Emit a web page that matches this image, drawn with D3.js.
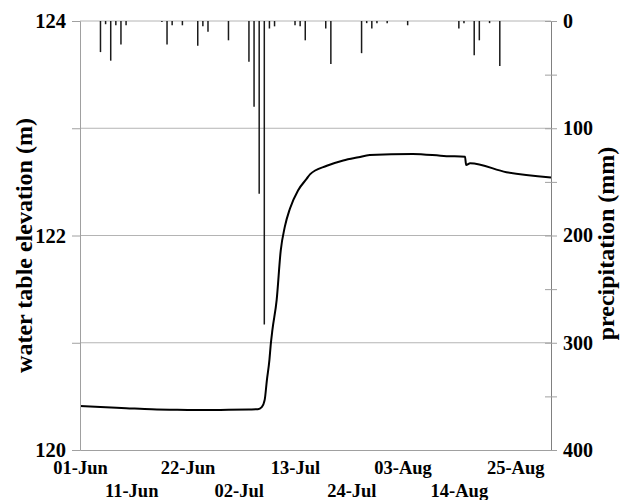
<!DOCTYPE html>
<html>
<head>
<meta charset="utf-8">
<script src="https://cdn.jsdelivr.net/npm/d3@7"></script>
<style>
  body { margin: 0; background: #fff; }
  text { font-family: "Liberation Serif", "Times New Roman", serif; font-weight: bold; fill: #000; }
</style>
</head>
<body>
<div id="chart"></div>
<script>
// water table record
const wtTimes = [
  "2012-06-01 00:00", "2012-06-05 00:00", "2012-06-10 00:00", "2012-06-15 00:00",
  "2012-06-20 00:00", "2012-06-25 00:00", "2012-06-30 00:00", "2012-07-04 00:00",
  "2012-07-05 18:00", "2012-07-06 12:00", "2012-07-07 02:00", "2012-07-07 12:00",
  "2012-07-08 00:00", "2012-07-08 06:00", "2012-07-08 14:00", "2012-07-09 10:00",
  "2012-07-10 05:00", "2012-07-11 00:00", "2012-07-12 00:00", "2012-07-13 14:00",
  "2012-07-15 07:00", "2012-07-15 22:00", "2012-07-19 05:00", "2012-07-22 10:00",
  "2012-07-25 10:00", "2012-07-27 14:00", "2012-08-05 00:00", "2012-08-11 14:00",
  "2012-08-15 05:00", "2012-08-15 10:00", "2012-08-16 05:00", "2012-08-23 07:00",
  "2012-09-01 00:00"
];
const wtLevels = [
  120.41, 120.40, 120.39, 120.38,
  120.375, 120.373, 120.375, 120.378,
  120.38, 120.40, 120.47, 120.65,
  120.84, 120.98, 121.12, 121.40,
  121.86, 122.08, 122.25, 122.42,
  122.53, 122.57, 122.65, 122.70,
  122.73, 122.75, 122.76, 122.74,
  122.735, 122.657, 122.673, 122.59,
  122.54
];

// daily precipitation (mm)
const rainDays = [
  "2012-06-05", "2012-06-06", "2012-06-07", "2012-06-08", "2012-06-09", "2012-06-10",
  "2012-06-17", "2012-06-18", "2012-06-19", "2012-06-21", "2012-06-24", "2012-06-25",
  "2012-06-26", "2012-06-30", "2012-07-04", "2012-07-05", "2012-07-06", "2012-07-07",
  "2012-07-08", "2012-07-09", "2012-07-13", "2012-07-14", "2012-07-15", "2012-07-19",
  "2012-07-20", "2012-07-26", "2012-07-27", "2012-07-28", "2012-07-29", "2012-07-31",
  "2012-08-04", "2012-08-14", "2012-08-15", "2012-08-17", "2012-08-18", "2012-08-20",
  "2012-08-22"
];
const rainMm = [
  29, 3, 37, 4, 22, 4,
  1, 22, 4, 4, 23, 5,
  10, 18, 38, 80, 161, 283,
  7, 5, 4, 5, 18, 7,
  40, 30, 2, 7, 2, 2,
  4, 7, 2, 32, 18, 2,
  42
];

const dateTicks = ["2012-06-01", "2012-06-11", "2012-06-22", "2012-07-02", "2012-07-13",
                   "2012-07-24", "2012-08-03", "2012-08-14", "2012-08-25"];
const levelTicks = [120, 121, 122, 123, 124];
const rainTicks = [0, 50, 100, 150, 200, 250, 300, 350, 400];

const width = 623, height = 500;
const plotLeft = 80, plotRight = 551, plotTop = 21, plotBottom = 450;

const parseTime = d3.timeParse("%Y-%m-%d %H:%M");
const parseDay = d3.timeParse("%Y-%m-%d");

const svg = d3.select("#chart").append("svg")
    .attr("width", width).attr("height", height)
    .style("background", "#fff");

const x = d3.scaleTime()
    .domain([parseDay("2012-06-01"), parseDay("2012-09-01")])
    .range([plotLeft, plotRight]);
const y = d3.scaleLinear().domain([120, 124]).range([plotBottom, plotTop]);
const yRain = d3.scaleLinear().domain([0, 400]).range([plotTop, plotBottom]);

// gridlines
svg.append("g").selectAll("line")
    .data([121, 122, 123, 124])
    .join("line")
    .attr("x1", plotLeft).attr("x2", plotRight)
    .attr("y1", d => y(d)).attr("y2", d => y(d))
    .attr("stroke", "#b4b4b4").attr("stroke-width", 1);

// precipitation bars hanging from the top
svg.append("g").selectAll("line")
    .data(rainDays.map((d, i) => ({date: parseDay(d), mm: rainMm[i]})))
    .join("line")
    .attr("x1", d => x(d.date)).attr("x2", d => x(d.date))
    .attr("y1", yRain(0)).attr("y2", d => yRain(d.mm))
    .attr("stroke", "#1a1a1a").attr("stroke-width", 1.5);

// water table line
const wtData = wtTimes.map((t, i) => ({time: parseTime(t), level: wtLevels[i]}));
svg.append("path")
    .datum(wtData)
    .attr("fill", "none")
    .attr("stroke", "#000")
    .attr("stroke-width", 2)
    .attr("stroke-linejoin", "round")
    .attr("d", d3.line().x(d => x(d.time)).y(d => y(d.level)).curve(d3.curveMonotoneX));

// left axis
const gLeft = svg.append("g")
    .attr("transform", `translate(${plotLeft},0)`)
    .call(d3.axisLeft(y).tickValues(levelTicks).tickSize(8).tickPadding(6)
        .tickFormat(d => d % 2 === 0 ? d : ""));
gLeft.select(".domain").attr("stroke", "#a0a0a0");
gLeft.selectAll(".tick line").attr("stroke", "#a0a0a0");
gLeft.selectAll("text").style("font-size", "20.5px").attr("fill", "#000");

// right axis (crossing ticks)
const gRight = svg.append("g")
    .attr("transform", `translate(${plotRight},0)`)
    .call(d3.axisRight(yRain).tickValues(rainTicks).tickSize(6).tickPadding(6)
        .tickFormat(d => d % 100 === 0 ? d : ""));
gRight.select(".domain").attr("stroke", "#808080");
gRight.selectAll(".tick line").attr("x1", -6).attr("stroke", "#a0a0a0");
gRight.selectAll("text").style("font-size", "20px").attr("fill", "#000");

// bottom axis, labels on two staggered rows
const gBottom = svg.append("g")
    .attr("transform", `translate(0,${plotBottom})`)
    .call(d3.axisBottom(x).tickValues(dateTicks.map(parseDay)).tickSize(0).tickPadding(0)
        .tickFormat(d3.timeFormat("%d-%b")));
gBottom.select(".domain").attr("stroke", "#a0a0a0");
gBottom.selectAll("text")
    .style("font-size", "18.5px").attr("fill", "#000")
    .attr("dy", null)
    .attr("y", (d, i) => i % 2 === 0 ? 24 : 47);

// axis titles
svg.append("text")
    .attr("transform", `translate(32,${(plotTop + plotBottom) / 2 + 10}) rotate(-90)`)
    .attr("text-anchor", "middle")
    .style("font-size", "24px")
    .text("water table elevation (m)");

svg.append("text")
    .attr("transform", `translate(614,${(plotTop + plotBottom) / 2 + 8}) rotate(-90)`)
    .attr("text-anchor", "middle")
    .style("font-size", "24px")
    .text("precipitation (mm)");
</script>
</body>
</html>
